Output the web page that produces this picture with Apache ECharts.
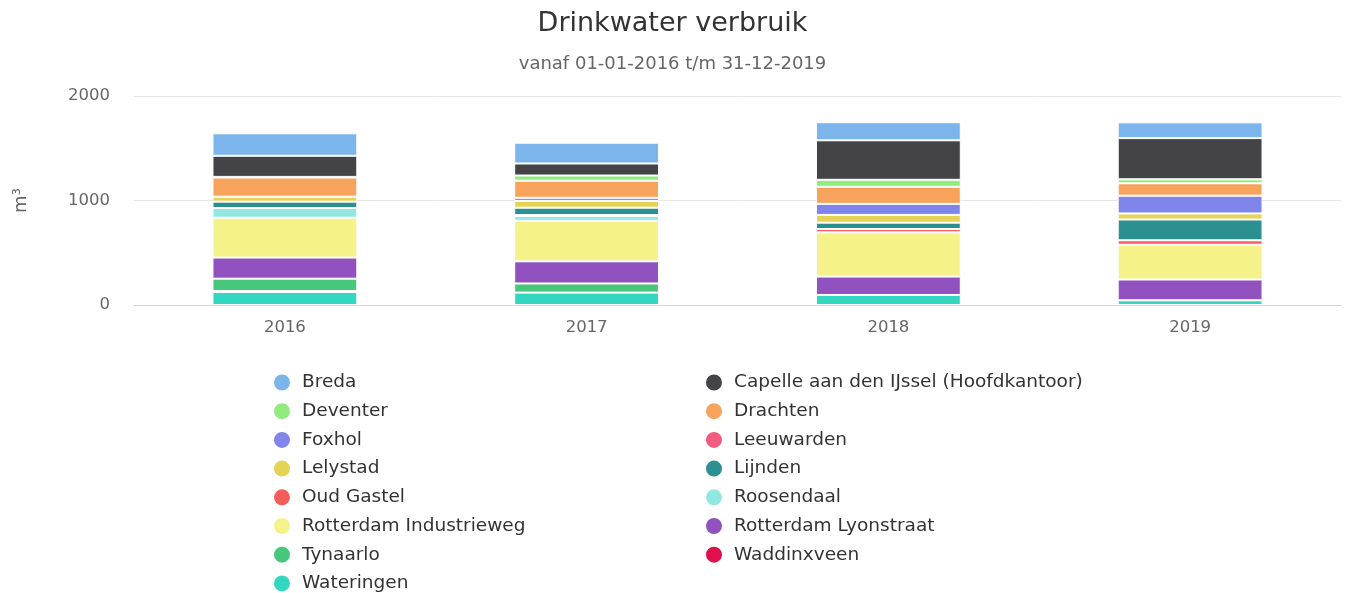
<!DOCTYPE html>
<html>
<head>
<meta charset="utf-8">
<script src="https://cdn.jsdelivr.net/npm/echarts@6/dist/echarts.min.js"></script>
<style>html,body{margin:0;padding:0;background:#fff;}#c{width:1345px;height:593px;}</style>
</head>
<body>
<div id="c"></div>
<script>
const years = ['2016', '2017', '2018', '2019'];
const yTicks = [0, 1000, 2000];

// series values (m3), order = legend order (top of stack first)
const breda        = [215, 199, 173, 151];
const capelle      = [202, 115, 378, 394];
const deventer     = [6, 50, 67, 38];
const drachten     = [183, 163, 163, 119];
const foxhol       = [0, 30, 106, 170];
const leeuwarden   = [0, 0, 0, 0];
const lelystad     = [48, 65, 74, 58];
const lijnden      = [61, 70, 61, 199];
const oudGastel    = [0, 10, 32, 42];
const roosendaal   = [93, 45, 0, 0];
const rdamIndustrieweg = [381, 388, 423, 333];
const rdamLyonstraat   = [202, 212, 176, 199];
const tynaarlo     = [119, 87, 0, 0];
const waddinxveen  = [8, 0, 0, 0];
const wateringen   = [125, 119, 96, 45];

const seriesDefs = [
  ['Breda', breda, '#7cb5ec'],
  ['Capelle aan den IJssel (Hoofdkantoor)', capelle, '#434348'],
  ['Deventer', deventer, '#90ed7d'],
  ['Drachten', drachten, '#f7a35c'],
  ['Foxhol', foxhol, '#8085e9'],
  ['Leeuwarden', leeuwarden, '#f15c80'],
  ['Lelystad', lelystad, '#e4d354'],
  ['Lijnden', lijnden, '#2b908f'],
  ['Oud Gastel', oudGastel, '#f45b5b'],
  ['Roosendaal', roosendaal, '#91e8e1'],
  ['Rotterdam Industrieweg', rdamIndustrieweg, '#f5f28a'],
  ['Rotterdam Lyonstraat', rdamLyonstraat, '#9152bf'],
  ['Tynaarlo', tynaarlo, '#46c77c'],
  ['Waddinxveen', waddinxveen, '#e0104e'],
  ['Wateringen', wateringen, '#33d6bf']
];

const leftCol = ['Breda','Deventer','Foxhol','Lelystad','Oud Gastel','Rotterdam Industrieweg','Tynaarlo','Wateringen'];
const rightCol = ['Capelle aan den IJssel (Hoofdkantoor)','Drachten','Leeuwarden','Lijnden','Roosendaal','Rotterdam Lyonstraat','Waddinxveen'];

const FONT = '"DejaVu Sans", Verdana, sans-serif';

// ECharts stacks in series order from bottom; reverse so first legend item is on top
const series = seriesDefs.slice().reverse().map(([name, data, color]) => ({
  name, type: 'bar', stack: 'total', data, barWidth: '48%',
  itemStyle: { color, borderColor: '#ffffff', borderWidth: 1 },
  emphasis: { disabled: true }
}));

const legendCommon = {
  orient: 'vertical', icon: 'circle', itemWidth: 18, itemHeight: 18, itemGap: 8.7,
  top: 372.5, height: 260, padding: 0, selectedMode: false,
  textStyle: { fontFamily: FONT, fontSize: 18.5, lineHeight: 19, color: '#333333', padding: [0, 0, 0, 6] }
};

const chart = echarts.init(document.getElementById('c'), null, { renderer: 'canvas' });
chart.setOption({
  animation: false,
  color: seriesDefs.map(d => d[2]),
  title: [
    { text: 'Drinkwater verbruik', left: 'center', top: 5,
      textStyle: { fontFamily: FONT, fontSize: 27, fontWeight: 'normal', color: '#333333' } },
    { text: 'vanaf 01-01-2016 t/m 31-12-2019', left: 'center', top: 50,
      textStyle: { fontFamily: FONT, fontSize: 18, fontWeight: 'normal', color: '#666666' } }
  ],
  legend: [
    Object.assign({}, legendCommon, { left: 272, data: leftCol }),
    Object.assign({}, legendCommon, { left: 704, data: rightCol })
  ],
  grid: { left: 134, right: 4, top: 96, bottom: 288, containLabel: false },
  xAxis: {
    type: 'category', data: years,
    axisLine: { lineStyle: { color: '#ccd6eb' } },
    axisTick: { length: 13, lineStyle: { color: '#ccd6eb' } },
    axisLabel: { fontFamily: FONT, fontSize: 16.5, color: '#666666', margin: 14 }
  },
  yAxis: {
    type: 'value', min: 0, max: 2000, interval: 1000,
    name: 'm³', nameLocation: 'middle', nameGap: 104, nameRotate: 90,
    nameTextStyle: { fontFamily: FONT, fontSize: 18, color: '#666666' },
    axisLine: { show: false }, axisTick: { show: false },
    axisLabel: { fontFamily: FONT, fontSize: 16.5, color: '#666666', margin: 24,
      formatter: v => yTicks.includes(v) ? String(v) : '' },
    splitLine: { lineStyle: { color: '#e6e6e6' } }
  },
  series
});
</script>
</body>
</html>
